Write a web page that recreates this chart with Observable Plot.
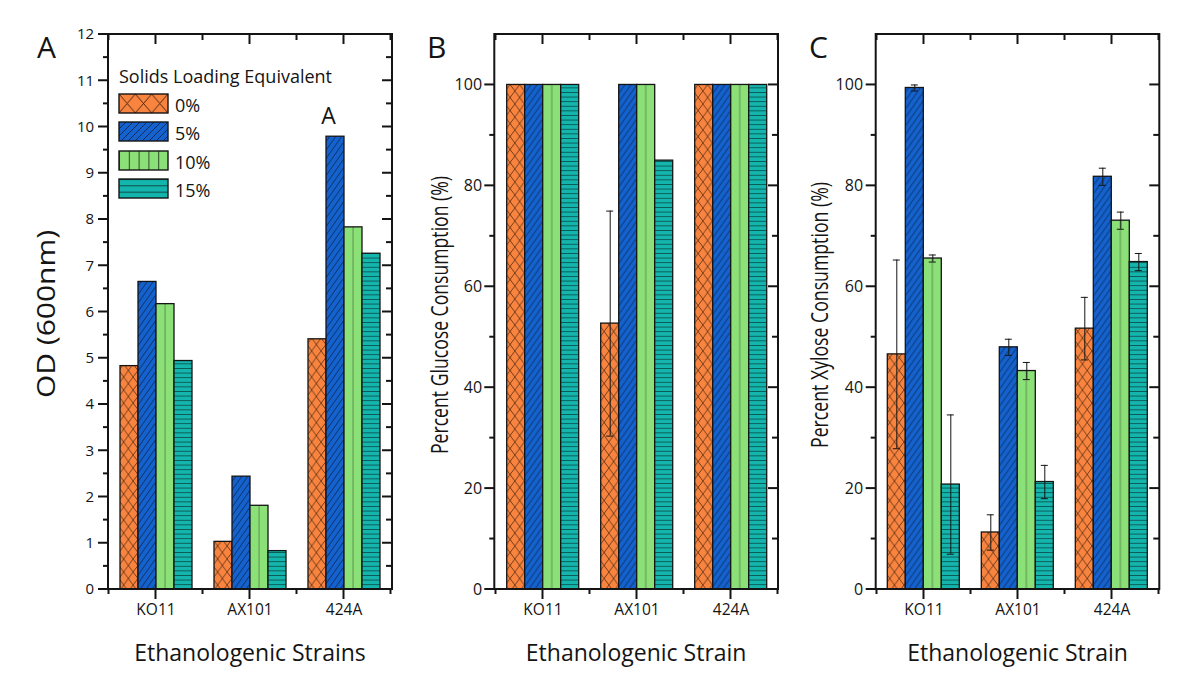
<!DOCTYPE html>
<html>
<head>
<meta charset="utf-8">
<script src="https://cdn.jsdelivr.net/npm/d3@7"></script>
<script src="https://cdn.jsdelivr.net/npm/@observablehq/plot@0.6"></script>
<style>
  body { margin: 0; background: #fff; }
  #wrap { position: relative; width: 1200px; height: 693px; overflow: hidden; background: #fff; font-family: "Open Sans", sans-serif; }
  #wrap > svg { position: absolute; top: 0; }
</style>
</head>
<body>
<svg width="0" height="0" style="position:absolute">
  <defs>
    <!-- bar fills -->
    <pattern id="pat0" patternUnits="userSpaceOnUse" width="9.47" height="13">
      <rect width="9.47" height="13" fill="#F8843F"/>
      <path d="M0,0L9.47,13M9.47,0L0,13" stroke="#3a1e0c" stroke-width="0.7" fill="none"/>
    </pattern>
    <pattern id="pat1" patternUnits="userSpaceOnUse" width="6" height="8.5">
      <rect width="6" height="8.5" fill="#1462CE"/>
      <path d="M0,8.5L6,0M-1.5,2.125L1.5,-2.125M4.5,10.625L7.5,6.375" stroke="#0a1c3c" stroke-width="0.7" fill="none"/>
    </pattern>
    <pattern id="pat2" patternUnits="objectBoundingBox" patternContentUnits="objectBoundingBox" width="1" height="1">
      <rect width="1" height="1" fill="#8CE078"/>
      <rect x="0.48" y="0" width="0.045" height="1" fill="#4f7f45"/>
    </pattern>
    <pattern id="pat3" patternUnits="userSpaceOnUse" width="10" height="4.6">
      <rect width="10" height="4.6" fill="#14B5AD"/>
      <rect x="0" y="0" width="10" height="0.8" fill="#0c4a46"/>
    </pattern>
    <!-- legend fills -->
    <pattern id="leg0" patternUnits="userSpaceOnUse" x="119" y="94" width="16.33" height="19">
      <rect width="16.33" height="19" fill="#F8843F"/>
      <path d="M0,0L16.33,19M16.33,0L0,19" stroke="#3a1e0c" stroke-width="0.9" fill="none"/>
    </pattern>
    <pattern id="leg1" patternUnits="userSpaceOnUse" x="119" y="122" width="7" height="7">
      <rect width="7" height="7" fill="#1462CE"/>
      <path d="M0,7L7,0M-1,1L1,-1M6,8L8,6" stroke="#0a1c3c" stroke-width="0.8" fill="none"/>
    </pattern>
    <pattern id="leg2" patternUnits="userSpaceOnUse" x="119" y="151" width="9.8" height="19">
      <rect width="9.8" height="19" fill="#8CE078"/>
      <rect x="0" y="0" width="1" height="19" fill="#2d4a28"/>
    </pattern>
    <pattern id="leg3" patternUnits="userSpaceOnUse" x="119" y="179" width="20" height="6.33">
      <rect width="20" height="6.33" fill="#14B5AD"/>
      <rect x="0" y="0" width="20" height="1" fill="#0c4a46"/>
    </pattern>
  </defs>
</svg>
<div id="wrap"></div>
<script>
// ---------------- data ----------------
const strains = ["KO11", "AX101", "424A"];
const loadings = ["0%", "5%", "10%", "15%"];
const legendTitle = "Solids Loading Equivalent";

// rows: strain (KO11, AX101, 424A); columns: loading (0%, 5%, 10%, 15%)
const odValues = [
  [4.83, 6.65, 6.17, 4.94],
  [1.03, 2.44, 1.81, 0.83],
  [5.41, 9.79, 7.83, 7.26]
];
const glucoseValues = [
  [100, 100, 100, 100],
  [52.7, 100, 100, 85.0],
  [100, 100, 100, 100]
];
const glucoseErrors = [
  [0, 0, 0, 0],
  [22.3, 0, 0, 0],
  [0, 0, 0, 0]
];
const xyloseValues = [
  [46.6, 99.4, 65.6, 20.8],
  [11.3, 48.0, 43.3, 21.3],
  [51.7, 81.8, 73.1, 64.9]
];
const xyloseErrors = [
  [18.7, 0.6, 0.7, 13.8],
  [3.5, 1.6, 1.7, 3.3],
  [6.2, 1.7, 1.7, 1.7]
];

const odTicks = d3.range(0, 13, 1);
const odMinor = d3.range(0.5, 12, 1);
const pctTicks = [0, 20, 40, 60, 80, 100];
const pctMinor = [10, 30, 50, 70, 90];

// ---------------- style ----------------
const barPatterns = ["url(#pat0)", "url(#pat1)", "url(#pat2)", "url(#pat3)"];
const legendPatterns = ["url(#leg0)", "url(#leg1)", "url(#leg2)", "url(#leg3)"];
const INK = "#141414";
const FONT = '"Open Sans", sans-serif';
const H = 693, MT = 34, MB = 104;
const PAD_IN = 0.2, PAD_OUT = 0.1;

function rowsOf(values, errors) {
  const rows = [];
  strains.forEach((s, si) => loadings.forEach((l, li) => rows.push({
    strain: s, loading: l, value: values[si][li], err: errors ? errors[si][li] : 0, li
  })));
  return rows;
}

function panel(cfg) {
  const rows = rowsOf(cfg.values, cfg.errors);
  const er = rows.filter(d => d.err > 0);
  const marks = [
    Plot.barY(rows, {
      fx: "strain", x: "loading", y: "value",
      fill: d => barPatterns[d.li], stroke: INK, strokeWidth: 1.3, inset: 0
    })
  ];
  if (er.length) {
    marks.push(
      Plot.ruleX(er, {fx: "strain", x: "loading", y1: d => d.value - d.err, y2: d => d.value + d.err, stroke: INK, strokeWidth: 1}),
      Plot.tickY(er, {fx: "strain", x: "loading", y: d => d.value + d.err, stroke: INK, strokeWidth: 1, insetLeft: 5.5, insetRight: 5.5}),
      Plot.tickY(er, {fx: "strain", x: "loading", y: d => d.value - d.err, stroke: INK, strokeWidth: 1, insetLeft: 5.5, insetRight: 5.5})
    );
  }
  if (cfg.annotation) {
    marks.push(Plot.text([cfg.annotation], {
      fx: "strain", x: "loading", y: "value", text: "label",
      lineAnchor: "bottom", dy: -13, dx: -7, fontSize: 23, fill: INK
    }));
  }
  // the y axis sits at the left edge of the first facet; push its labels out past the frame
  const outer = PAD_OUT * (cfg.width - cfg.ml - cfg.mr) / (strains.length - PAD_IN + 2 * PAD_OUT);
  const plot = Plot.plot({
    width: cfg.width, height: H,
    marginLeft: cfg.ml, marginRight: cfg.mr, marginTop: MT, marginBottom: MB,
    style: {fontFamily: FONT, fontSize: "14px", color: INK, background: "white", overflow: "visible"},
    fx: {domain: strains, paddingInner: PAD_IN, paddingOuter: PAD_OUT, axis: "bottom", label: null, tickSize: 0, tickPadding: 14},
    x: {domain: loadings, padding: 0, axis: null},
    y: {domain: cfg.yDomain, ticks: cfg.yTicks, tickSize: 0, tickPadding: outer + cfg.yGap, label: null},
    color: {type: "identity"},
    marks
  });
  plot.style.left = cfg.left + "px";
  document.getElementById("wrap").appendChild(plot);

  const svg = d3.select(plot);
  svg.selectAll("text").each(function () {
    if (this.closest('[aria-label="text"]')) {
      this.style.setProperty("font-size", "23px", "important");
      return;
    }
    const isY = !!this.closest('[aria-label^="y-axis"]');
    this.style.setProperty("font-size", (isY ? cfg.yTickFont : 15.5) + "px", "important");
    this.style.setProperty("font-family", FONT, "important");
    this.style.setProperty("fill", INK);
  });

  // ---- decorations: frame, minor and mirrored ticks, titles ----
  const ys = plot.scale("y");
  const y = ys.apply ? (v => ys.apply(v)) : d3.scaleLinear(ys.domain, ys.range);
  const fs = plot.scale("fx");
  let fxStart, bw, step;
  if (fs.apply) {
    fxStart = v => fs.apply(v); bw = fs.bandwidth; step = fs.step;
  } else {
    const b = d3.scaleBand(fs.domain, fs.range).paddingInner(PAD_IN).paddingOuter(PAD_OUT).align(fs.align ?? 0.5).round(!!fs.round);
    fxStart = b; bw = b.bandwidth(); step = b.step();
  }
  if (!step) step = bw / (1 - PAD_IN);
  const centers = strains.map(s => fxStart(s) + bw / 2);
  const bounds = [centers[0] - step / 2, ...centers.map(c => c + step / 2)];
  const x0 = cfg.ml, x1 = cfg.width - cfg.mr, y0 = MT, y1 = H - MB;
  const g = svg.append("g").attr("stroke", INK).attr("stroke-width", 2).attr("fill", "none");
  const seg = (a, b, c, d) => g.append("line").attr("x1", a).attr("y1", b).attr("x2", c).attr("y2", d);
  cfg.yTicks.forEach(t => { seg(x0 - 10, y(t), x0, y(t)); seg(x1 - 10, y(t), x1, y(t)); });
  cfg.yMinor.forEach(t => { seg(x0 - 5, y(t), x0, y(t)); seg(x1 - 6, y(t), x1, y(t)); });
  centers.forEach(c => { seg(c, y1, c, y1 + 10); seg(c, y0, c, y0 + 10); });
  bounds.forEach(c => { seg(c, y1, c, y1 + 5); seg(c, y0, c, y0 + 6); });
  g.append("rect").attr("x", x0).attr("y", y0).attr("width", x1 - x0).attr("height", y1 - y0);

  const t = svg.append("g").attr("fill", INK).attr("font-family", FONT);
  t.append("text").attr("x", cfg.letterX).attr("y", 58).attr("font-size", 30)
    .attr("text-anchor", "start").text(cfg.letter);
  t.append("text").attr("transform", `translate(${cfg.yTitleX},${cfg.yTitleY}) rotate(-90)`)
    .attr("text-anchor", "middle").attr("font-size", cfg.yTitleSize)
    .attr("textLength", cfg.yTitleLen).attr("lengthAdjust", "spacingAndGlyphs").text(cfg.yTitle);
  t.append("text").attr("x", (x0 + x1) / 2).attr("y", 661).attr("text-anchor", "middle")
    .attr("font-size", 23).text(cfg.xTitle);
  return {svg, x0, y0};
}

// Panel A
const A = panel({
  left: 0, width: 400, ml: 108, mr: 8,
  values: odValues, errors: null,
  yDomain: [0, 12], yTicks: odTicks, yMinor: odMinor, yTickFont: 15, yGap: 15,
  annotation: {strain: "424A", loading: "5%", value: odValues[2][1], label: "A"},
  letter: "A", letterX: 37,
  yTitle: "OD (600nm)", yTitleX: 55, yTitleY: 314, yTitleSize: 25, yTitleLen: 168,
  xTitle: "Ethanologenic Strains"
});
// legend inside panel A
{
  const lg = A.svg.append("g").attr("font-family", FONT).attr("fill", INK).attr("text-anchor", "start");
  lg.append("text").attr("x", 119).attr("y", 83).attr("font-size", 18).text(legendTitle);
  const tops = [94, 122, 151, 179];
  loadings.forEach((l, i) => {
    lg.append("rect").attr("x", 119).attr("y", tops[i]).attr("width", 49).attr("height", 19)
      .attr("fill", legendPatterns[i]).attr("stroke", INK).attr("stroke-width", 1.4);
    lg.append("text").attr("x", 175).attr("y", tops[i] + 17.5).attr("font-size", 18).text(l);
  });
}

// Panel B
panel({
  left: 400, width: 400, ml: 94.3, mr: 22,
  values: glucoseValues, errors: glucoseErrors,
  yDomain: [0, 110], yTicks: pctTicks, yMinor: pctMinor, yTickFont: 16, yGap: 14,
  letter: "B", letterX: 27,
  yTitle: "Percent Glucose Consumption (%)", yTitleX: 48, yTitleY: 315, yTitleSize: 24, yTitleLen: 278,
  xTitle: "Ethanologenic Strain"
});

// Panel C
panel({
  left: 780, width: 420, ml: 95.7, mr: 40.7,
  values: xyloseValues, errors: xyloseErrors,
  yDomain: [0, 110], yTicks: pctTicks, yMinor: pctMinor, yTickFont: 16, yGap: 14,
  letter: "C", letterX: 29,
  yTitle: "Percent Xylose Consumption (%)", yTitleX: 48, yTitleY: 315, yTitleSize: 24, yTitleLen: 266,
  xTitle: "Ethanologenic Strain"
});
</script>
</body>
</html>
